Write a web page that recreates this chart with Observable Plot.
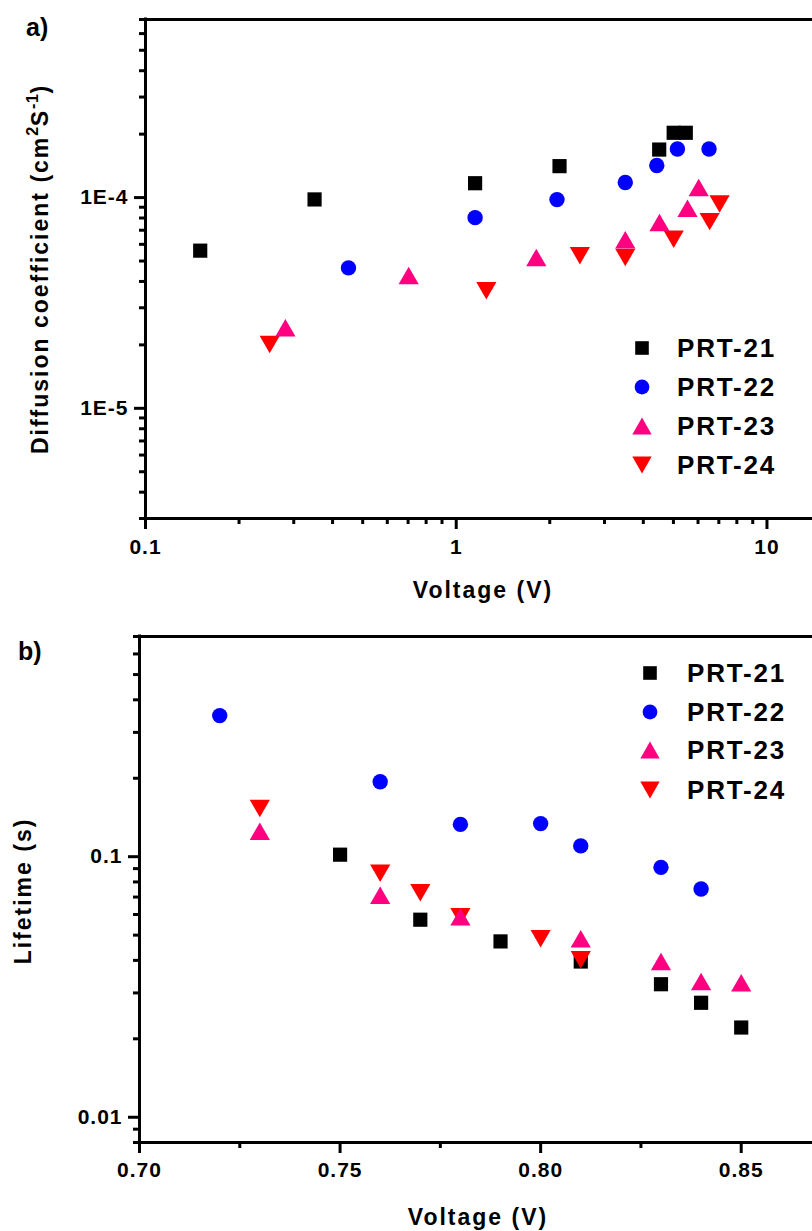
<!DOCTYPE html>
<html><head><meta charset="utf-8">
<script src="https://cdn.jsdelivr.net/npm/d3@7"></script>
<script src="https://cdn.jsdelivr.net/npm/@observablehq/plot@0.6"></script>
<style>
html,body{margin:0;padding:0;overflow:hidden;background:#fff;width:812px;height:1231px;}
#page{position:relative;width:812px;height:1231px;overflow:hidden;font-family:"Liberation Sans",Arial,sans-serif;font-weight:bold;color:#000;}
.abs{position:absolute;white-space:nowrap;line-height:1;}
.ttl{font-size:23px;letter-spacing:2px;}
.sup{font-size:0.7em;position:relative;top:-0.6em;letter-spacing:0.5px;}
.leg{font-size:26px;letter-spacing:1.8px;}
.pl{font-size:25px;}
#page svg{max-width:none !important;}
</style></head><body><div id="page"></div>
<script>
// ---------- data ----------
const series = ["PRT-21", "PRT-22", "PRT-23", "PRT-24"];
const colors = ["#000000", "#0000ff", "#ff0080", "#ff0000"];

// panel a: diffusion coefficient vs voltage
const aV21 = [0.15, 0.35, 1.15, 2.15, 4.5, 5.01, 5.48];
const aD21 = [5.6e-5, 9.8e-5, 1.17e-4, 1.41e-4, 1.69e-4, 2.03e-4, 2.03e-4];
const aV22 = [0.45, 1.15, 2.11, 3.5, 4.42, 5.15, 6.51];
const aD22 = [4.64e-5, 8.03e-5, 9.78e-5, 1.18e-4, 1.42e-4, 1.70e-4, 1.70e-4];
const aV23 = [0.282, 0.703, 1.81, 3.5, 4.51, 5.55, 6.03];
const aD23 = [2.41e-5, 4.27e-5, 5.2e-5, 6.3e-5, 7.62e-5, 8.89e-5, 1.116e-4];
const aV24 = [0.251, 1.25, 2.5, 3.5, 5.01, 6.54, 7.04];
const aD24 = [2.01e-5, 3.61e-5, 5.3e-5, 5.2e-5, 6.34e-5, 7.69e-5, 9.33e-5];

// panel b: lifetime vs voltage
const bV21 = [0.75, 0.77, 0.79, 0.81, 0.83, 0.84, 0.85];
const bL21 = [0.1018, 0.0573, 0.0473, 0.0396, 0.0324, 0.0275, 0.0221];
const bV22 = [0.72, 0.76, 0.78, 0.80, 0.81, 0.83, 0.84];
const bL22 = [0.348, 0.194, 0.133, 0.134, 0.110, 0.091, 0.0752];
const bV23 = [0.73, 0.76, 0.78, 0.81, 0.83, 0.84, 0.85];
const bL23 = [0.1253, 0.0711, 0.0588, 0.0484, 0.0396, 0.0332, 0.0328];
const bV24 = [0.73, 0.76, 0.77, 0.78, 0.80, 0.81];
const bL24 = [0.153, 0.0864, 0.0727, 0.0588, 0.0484, 0.0402];

// axis ticks
const aXDomain = [0.1, 20];
const aYDomain = [3e-6, 7e-4];
const aXMajor = [0.1, 1, 10];
const aXMinor = [0.2, 0.3, 0.4, 0.5, 0.6, 0.7, 0.8, 0.9, 2, 3, 4, 5, 6, 7, 8, 9];
const aYMajor = [1e-5, 1e-4];
const aYMinor = [3e-6, 4e-6, 5e-6, 6e-6, 7e-6, 8e-6, 9e-6, 2e-5, 3e-5, 4e-5, 5e-5, 6e-5, 7e-5, 8e-5, 9e-5, 2e-4, 3e-4, 4e-4, 5e-4, 6e-4, 7e-4];

const bXDomain = [0.70, 0.875];
const bYDomain = [0.008, 0.7];
const bXMajor = [0.70, 0.75, 0.80, 0.85];
const bXMinor = [0.725, 0.775, 0.825];
const bYMajor = [0.01, 0.1];
const bYMinor = [0.008, 0.009, 0.02, 0.03, 0.04, 0.05, 0.06, 0.07, 0.08, 0.09, 0.2, 0.3, 0.4, 0.5, 0.6, 0.7];

// ---------- symbols ----------
const K = Math.sqrt(3);
const triUp = {draw(ctx, size) { const y = Math.sqrt(size / (3 * K)); ctx.moveTo(0, -1.5 * y); ctx.lineTo(K * y, 1.5 * y); ctx.lineTo(-K * y, 1.5 * y); ctx.closePath(); }};
const triDown = {draw(ctx, size) { const y = Math.sqrt(size / (3 * K)); ctx.moveTo(0, 1.5 * y); ctx.lineTo(K * y, -1.5 * y); ctx.lineTo(-K * y, -1.5 * y); ctx.closePath(); }};
const symbols = [d3.symbolSquare, d3.symbolCircle, triUp, triDown];
const radii = [8, 7.7, 7.5, 7.5];
const drawOrder = [0, 1, 3, 2];

function rows(vs, ys) { return vs.map((v, i) => ({x: v, y: ys[i]})); }
const aData = [rows(aV21, aD21), rows(aV22, aD22), rows(aV23, aD23), rows(aV24, aD24)];
const bData = [rows(bV21, bL21), rows(bV22, bL22), rows(bV23, bL23), rows(bV24, bL24)];

function panel(o) {
  const marks = [
    Plot.ruleY([o.yDomain[1]], {strokeWidth: 3, strokeLinecap: "square"}),
    Plot.ruleY([o.yDomain[0]], {strokeWidth: 3, strokeLinecap: "square"}),
    Plot.ruleX([o.xDomain[0]], {strokeWidth: 3, strokeLinecap: "square"}),
    Plot.axisX({ticks: o.xMinor, tickSize: 6, strokeWidth: 3, tickFormat: () => "", label: null}),
    Plot.axisX({ticks: o.xMajor, tickSize: 11, strokeWidth: 3, tickPadding: o.xPad, tickFormat: o.xFmt, label: null}),
    Plot.axisY({ticks: o.yMinor, tickSize: 6, strokeWidth: 3, tickFormat: () => "", label: null}),
    Plot.axisY({ticks: o.yMajor, tickSize: 11, strokeWidth: 3, tickPadding: 6, tickFormat: o.yFmt, label: null})
  ];
  for (const i of drawOrder) {
    marks.push(Plot.dot(o.data[i], {x: "x", y: "y", symbol: () => symbols[i], r: radii[i], fill: colors[i], stroke: "none"}));
  }
  return Plot.plot({
    width: o.width, height: o.height,
    marginLeft: o.mL, marginRight: 0, marginTop: o.mT, marginBottom: o.mB,
    x: {type: o.xType, domain: o.xDomain},
    y: {type: "log", domain: o.yDomain},
    symbol: {type: "identity"},
    style: {fontFamily: "'Liberation Sans', Arial, sans-serif", fontWeight: "bold", fontSize: "21px", letterSpacing: "1px", color: "#000", background: "transparent", overflow: "visible", maxWidth: "none"},
    marks
  });
}

const page = document.getElementById("page");

const svgA = panel({
  data: aData, xType: "log", xDomain: aXDomain, yDomain: aYDomain,
  xMajor: aXMajor, xMinor: aXMinor, yMajor: aYMajor, yMinor: aYMinor,
  xFmt: d => String(d), yFmt: d => "1E" + Math.round(Math.log10(d)), xPad: 10,
  width: 860, height: 570, mL: 145, mT: 19, mB: 52
});
svgA.style.position = "absolute"; svgA.style.left = "0px"; svgA.style.top = "0px";
svgA.style.maxWidth = "none"; svgA.style.width = "860px"; svgA.style.height = "570px";
page.appendChild(svgA);

const svgB = panel({
  data: bData, xType: "linear", xDomain: bXDomain, yDomain: bYDomain,
  xMajor: bXMajor, xMinor: bXMinor, yMajor: bYMajor, yMinor: bYMinor,
  xFmt: d => d.toFixed(2), yFmt: d => String(d), xPad: 9,
  width: 841, height: 592, mL: 139, mT: 36, mB: 50
});
svgB.style.position = "absolute"; svgB.style.left = "0px"; svgB.style.top = "600px";
svgB.style.maxWidth = "none"; svgB.style.width = "841px"; svgB.style.height = "592px";
page.appendChild(svgB);

// ---------- text ----------
function addDiv(html, cls, css) {
  const d = document.createElement("div");
  d.className = "abs " + cls;
  d.innerHTML = html;
  Object.assign(d.style, css);
  page.appendChild(d);
  return d;
}
addDiv("a)", "pl", {left: "26px", top: "15px"});
addDiv("b)", "pl", {left: "18px", top: "639px"});
addDiv("Voltage (V)", "ttl", {left: "483px", top: "579px", transform: "translateX(-50%)"});
addDiv("Voltage (V)", "ttl", {left: "478px", top: "1206px", transform: "translateX(-50%)"});
addDiv('Diffusion coefficient (cm<span class="sup">2</span>S<span class="sup">-1</span>)', "ttl",
  {left: "40px", top: "269px", transform: "translate(-50%,-50%) rotate(-90deg)"});
addDiv("Lifetime (s)", "ttl", {left: "23px", top: "891px", transform: "translate(-50%,-50%) rotate(-90deg)"});

// ---------- legends ----------
function legend(symX, textX, ys) {
  series.forEach((name, i) => {
    const svg = d3.create("svg").attr("width", 30).attr("height", 30)
      .style("position", "absolute").style("left", (symX - 15) + "px").style("top", (ys[i] - 15) + "px");
    svg.append("path").attr("transform", "translate(15,15)")
      .attr("d", d3.symbol(symbols[i], radii[i] * radii[i] * Math.PI * 0.92)())
      .attr("fill", colors[i]);
    page.appendChild(svg.node());
    addDiv(name, "leg", {left: textX + "px", top: (ys[i] - 12.7) + "px"});
  });
}
legend(642, 677, [348, 387, 426, 465]);
legend(650, 687, [673, 712, 750, 790]);
</script></body></html>
